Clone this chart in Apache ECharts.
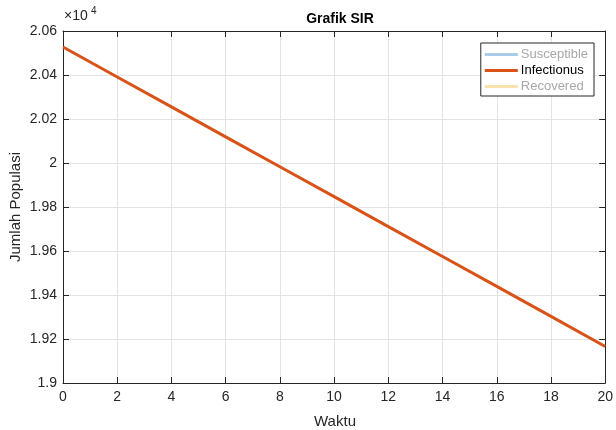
<!DOCTYPE html>
<html>
<head>
<meta charset="utf-8">
<script src="https://cdn.jsdelivr.net/npm/echarts@6/dist/echarts.min.js"></script>
<style>
  html, body { margin: 0; padding: 0; background: #fff; }
  #chart { width: 616px; height: 430px; }
</style>
</head>
<body>
<div id="chart"></div>
<script>
// data
const waktu = [0, 2, 4, 6, 8, 10, 12, 14, 16, 18, 20];
const infectious = [20527, 20391, 20255, 20119, 19983, 19847, 19711, 19575, 19439, 19303, 19166];
const seriesNames = ['Susceptible', 'Infectionus', 'Recovered'];
const seriesColors = ['#a9cbe8', '#d95319', '#f8e2ad'];

const chart = echarts.init(document.getElementById('chart'));
const fontFam = 'Liberation Sans, Arial, sans-serif';

function axisLine() { return { show: true, onZero: false, lineStyle: { color: '#262626', width: 1 } }; }
function tick() { return { show: true, inside: true, length: 6, lineStyle: { color: '#262626', width: 1 } }; }

const option = {
    animation: false,
    title: {
        text: 'Grafik SIR',
        left: 335, top: 7, textAlign: 'center',
        textStyle: { fontFamily: fontFam, fontSize: 14, fontWeight: 'bold', color: '#000000' }
    },
    legend: {
        orient: 'vertical',
        right: 22, top: 43,
        itemWidth: 33, itemHeight: 3, itemGap: 3,
        padding: [5, 6, 3, 4],
        backgroundColor: '#ffffff',
        borderColor: '#262626', borderWidth: 1,
        icon: 'rect',
        data: [
            { name: seriesNames[0], textStyle: { color: '#a8a8a8' } },
            { name: seriesNames[1], textStyle: { color: '#000000' } },
            { name: seriesNames[2], textStyle: { color: '#a8a8a8' } }
        ],
        textStyle: { fontFamily: fontFam, fontSize: 13, padding: [0, 0, 0, -2] }
    },
    grid: { left: 63, right: 8, top: 31, bottom: 47, containLabel: false },
    graphic: [{
        type: 'text', left: 64, top: 9,
        style: { text: '×10', font: '14px Liberation Sans', fill: '#262626' }
    }, {
        type: 'text', left: 91, top: 6,
        style: { text: '4', font: '10px Liberation Sans', fill: '#262626' }
    }, {
        type: 'text', x: 335, y: 422,
        style: { text: 'Waktu', font: '15px Liberation Sans', fill: '#262626', align: 'center', verticalAlign: 'middle' }
    }, {
        type: 'text', x: 16, y: 207, rotation: Math.PI / 2,
        style: { text: 'Jumlah Populasi', font: '15px Liberation Sans', fill: '#262626', align: 'center', verticalAlign: 'middle' }
    }],
    xAxis: [{
        type: 'value', min: 0, max: 20, interval: 2,
        axisLine: axisLine(),
        axisTick: tick(),
        axisLabel: { fontFamily: fontFam, fontSize: 14, color: '#262626', margin: 7 },
        splitLine: { show: true, lineStyle: { color: '#e3e3e3' } }
    }, {
        type: 'value', position: 'top', min: 0, max: 20, interval: 2,
        axisLine: axisLine(),
        axisTick: tick(),
        axisLabel: { show: false },
        splitLine: { show: false }
    }],
    yAxis: [{
        type: 'value', min: 19000, max: 20600, interval: 200,
        axisLine: axisLine(),
        axisTick: tick(),
        axisLabel: {
            fontFamily: fontFam, fontSize: 14, color: '#262626', margin: 6,
            formatter: v => String(+(v / 10000).toFixed(2))
        },
        splitLine: { show: true, lineStyle: { color: '#e3e3e3' } }
    }, {
        type: 'value', position: 'right', min: 19000, max: 20600, interval: 200,
        axisLine: axisLine(),
        axisTick: tick(),
        axisLabel: { show: false },
        splitLine: { show: false }
    }],
    series: [
        {
            name: seriesNames[0], type: 'line', data: [],
            itemStyle: { color: seriesColors[0] }, lineStyle: { color: seriesColors[0], width: 3 }
        },
        {
            name: seriesNames[1], type: 'line', showSymbol: false,
            data: waktu.map((t, i) => [t, infectious[i]]),
            itemStyle: { color: seriesColors[1] }, lineStyle: { color: seriesColors[1], width: 3 }
        },
        {
            name: seriesNames[2], type: 'line', data: [],
            itemStyle: { color: seriesColors[2] }, lineStyle: { color: seriesColors[2], width: 3 }
        }
    ]
};
chart.setOption(option);
</script>
</body>
</html>
